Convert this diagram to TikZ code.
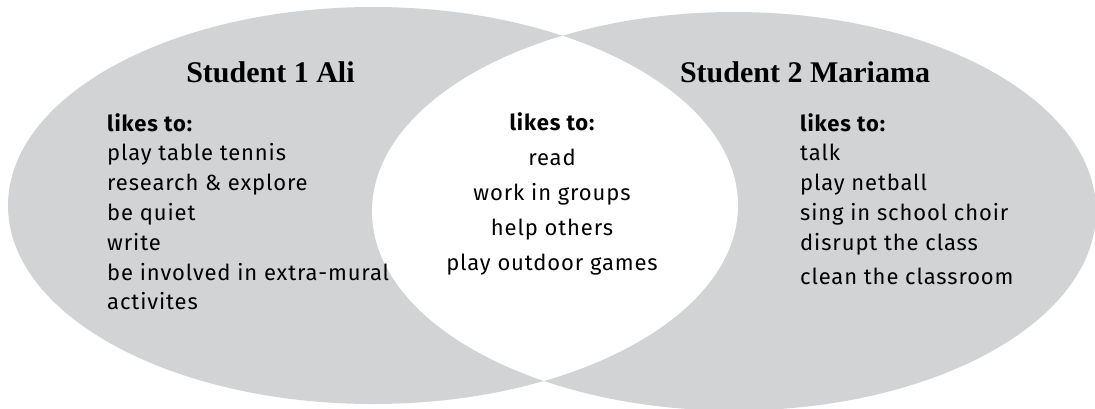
\documentclass[tikz,border=0pt]{standalone}
\usepackage{fontspec}
\setmainfont{Liberation Serif}
\newfontfamily\listfont[LetterSpace=4]{Fira Sans}
\usepackage{xcolor}
\definecolor{venngray}{RGB}{209,211,212}
\usetikzlibrary{positioning}

\begin{document}
\begin{tikzpicture}[x=1pt, y=-1pt,
	setname/.style={font=\fontsize{30}{34}\selectfont\bfseries, anchor=base, inner sep=0pt},
	likeshead/.style={font=\listfont\bfseries\fontsize{22}{25}\selectfont, inner sep=0pt},
	likeitem/.style={font=\listfont\fontsize{22}{25}\selectfont, inner sep=0pt}]

\useasboundingbox (0,0) rectangle (1095,408);

\def \xgap{29.8} % line step, side lists
\def \xmid{35}   % line step, middle list

% the two sets
\fill[venngray] (373,205.5) ellipse [x radius=365pt, y radius=198.5pt]; % Ali
\fill[venngray] (734,211.3) ellipse [x radius=362pt, y radius=199.3pt]; % Mariama
\begin{scope}
	\clip (373,205.5) ellipse [x radius=365pt, y radius=198.5pt];
	\fill[white] (734,211.3) ellipse [x radius=362pt, y radius=199.3pt]; % overlap
\end{scope}

% titles
\node[setname] (ali title) at (270.5, 82) {Student 1 Ali};
\node[setname] (mariama title) at (805, 82) {Student 2 Mariama};

% Ali
\node[likeshead, anchor=base west] (ali likes) at (107, 131) {likes to:};
\foreach \txt [count=\i] in {play table tennis, research \& explore, be quiet, write,
		be involved in extra-mural, activites} {
	\node[likeitem, anchor=base west] (ali-\i) at (107, 131 + \i*\xgap) {\txt};
}

% both
\node[likeshead, anchor=base] (both likes) at (552, 130) {likes to:};
\foreach \txt [count=\i] in {read, work in groups, help others, play outdoor games} {
	\node[likeitem, anchor=base] (both-\i) at (552, 130 + \i*\xmid) {\txt};
}

% Mariama
\node[likeshead, anchor=base west] (mariama likes) at (800, 131) {likes to:};
\foreach \txt [count=\i] in {talk, play netball, sing in school choir, disrupt the class} {
	\node[likeitem, anchor=base west] (mariama-\i) at (800, 131 + \i*\xgap) {\txt};
}
\node[likeitem, anchor=base west] (mariama-5) at (800, 284) {clean the classroom}; % a bit lower

\end{tikzpicture}
\end{document}
